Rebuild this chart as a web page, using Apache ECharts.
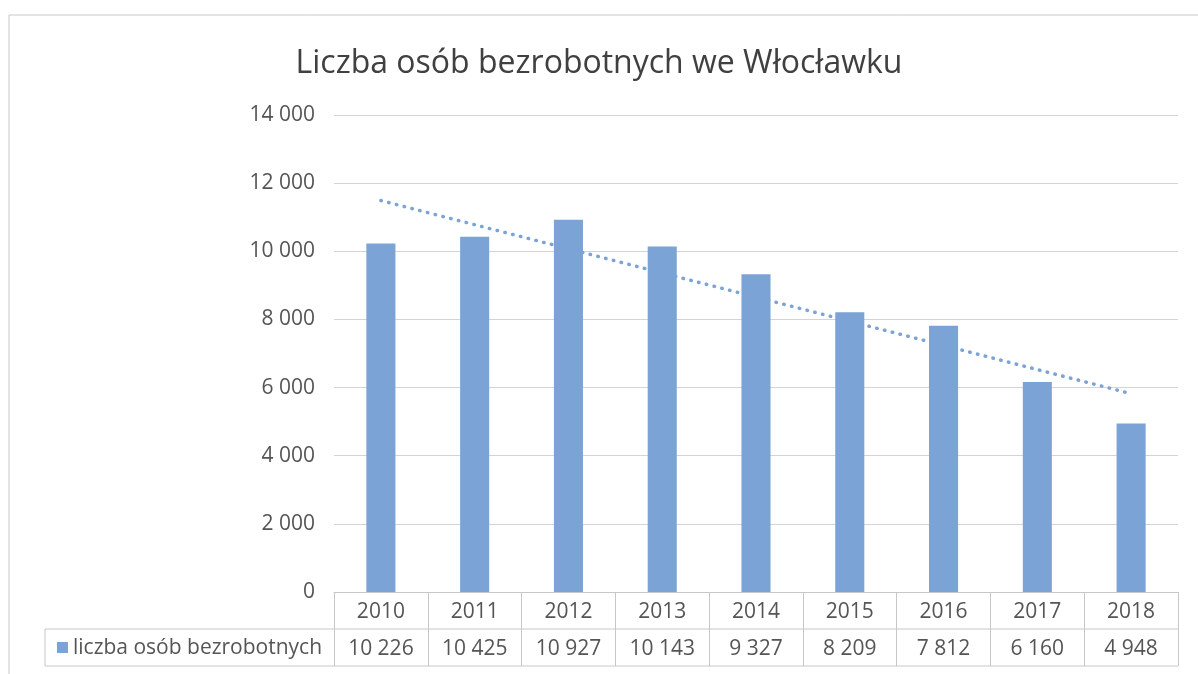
<!DOCTYPE html>
<html>
<head>
<meta charset="utf-8">
<script src="https://cdn.jsdelivr.net/npm/echarts@6/dist/echarts.min.js"></script>
<style>
  html, body { margin: 0; padding: 0; background: #fff; }
  #chart { width: 1198px; height: 674px; }
</style>
</head>
<body>
<div id="chart"></div>
<script>
// dane z wykresu
var years = ['2010', '2011', '2012', '2013', '2014', '2015', '2016', '2017', '2018'];
var bezrobotni = [10226, 10425, 10927, 10143, 9327, 8209, 7812, 6160, 4948];
// linia trendu - tylko punkty skrajne
var trend = [11490, null, null, null, null, null, null, null, 5820];
var seriesName = 'liczba osób bezrobotnych';

var font = '"Open Sans", "Noto Sans", sans-serif';
var barColor = '#7ba3d6';
var tableLine = '#c9c6ca';

var gridLeft = 334, gridRight = 20, gridTop = 115, gridBottom = 82;
var rowH = 37;

function fmt(v) {
  return String(v).replace(/\B(?=(\d{3})+(?!\d))/g, ' ');
}

var myChart = echarts.init(document.getElementById('chart'));

var option = {
  animation: false,
  backgroundColor: '#fff',
  title: {
    text: 'Liczba osób bezrobotnych we Włocławku',
    left: 'center',
    top: 43,
    textStyle: { fontFamily: font, fontSize: 32, fontWeight: 'normal', color: '#404040' }
  },
  grid: { left: gridLeft, right: gridRight, top: gridTop, bottom: gridBottom },
  xAxis: [{
    type: 'category',
    data: years,
    boundaryGap: true,
    axisLine: { lineStyle: { color: tableLine, width: 1 } },
    axisTick: { show: true, length: rowH * 2, lineStyle: { color: tableLine } },
    axisLabel: { fontFamily: font, fontSize: 21, color: '#555', margin: 10 }
  }, {
    type: 'category',
    data: years,
    position: 'bottom',
    offset: rowH,
    boundaryGap: true,
    axisLine: { show: false },
    axisTick: { show: false },
    axisLabel: {
      fontFamily: font, fontSize: 21, color: '#555', margin: 10,
      formatter: function (v, i) { return fmt(bezrobotni[i]); }
    }
  }],
  yAxis: {
    type: 'value',
    min: 0,
    max: 14000,
    interval: 2000,
    axisLine: { show: false },
    axisTick: { show: false },
    splitLine: { lineStyle: { color: '#d6d3d8', width: 1 } },
    axisLabel: {
      fontFamily: font, fontSize: 21, color: '#555', margin: 19,
      formatter: function (v) { return fmt(v); }
    }
  },
  series: [{
    name: seriesName,
    type: 'bar',
    data: bezrobotni,
    barWidth: '31%',
    itemStyle: { color: barColor }
  }, {
    name: 'trend',
    type: 'line',
    data: trend,
    connectNulls: true,
    symbol: 'none',
    z: 5,
    lineStyle: { color: barColor, width: 3.5, type: [0.5, 7.5], cap: 'round' }
  }],
  graphic: []
};

myChart.setOption(option);

// tabela danych pod osią
var yZero = myChart.convertToPixel({ yAxisIndex: 0 }, 0);
var xRight = 1198 - gridRight;
var legendLeft = 45;
myChart.setOption({
  graphic: [
    { type: 'rect', shape: { x: 9, y: 15, width: 1300, height: 800 }, style: { fill: 'none', stroke: '#c8c8c8', lineWidth: 1 }, silent: true },
    { type: 'line', shape: { x1: legendLeft, y1: yZero + rowH, x2: xRight, y2: yZero + rowH }, style: { stroke: tableLine, lineWidth: 1 } },
    { type: 'line', shape: { x1: legendLeft, y1: yZero + rowH * 2, x2: xRight, y2: yZero + rowH * 2 }, style: { stroke: tableLine, lineWidth: 1 } },
    { type: 'line', shape: { x1: legendLeft, y1: yZero + rowH, x2: legendLeft, y2: yZero + rowH * 2 }, style: { stroke: tableLine, lineWidth: 1 } },
    { type: 'rect', shape: { x: 57, y: yZero + rowH + 13, width: 11, height: 11 }, style: { fill: barColor } },
    { type: 'text', x: 73, y: yZero + rowH * 1.5 + 1, style: { text: seriesName, fontFamily: font, fontSize: 21, fill: '#555', verticalAlign: 'middle' } }
  ]
});

window.addEventListener('resize', function () { myChart.resize(); });
</script>
</body>
</html>
